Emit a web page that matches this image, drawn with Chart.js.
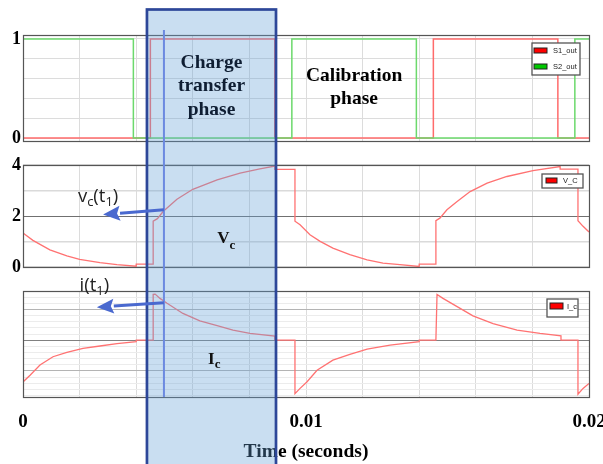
<!DOCTYPE html>
<html>
<head>
<meta charset="utf-8">
<script src="https://cdn.jsdelivr.net/npm/chart.js@4.4.0/dist/chart.umd.min.js"></script>
<style>
  html, body { margin: 0; padding: 0; background: #fff; overflow: hidden; }
  #wrap { position: relative; width: 603px; height: 464px; overflow: hidden; }
  #wrap canvas { position: absolute; left: 0; }
</style>
</head>
<body>
<div id="wrap">
  <canvas id="swChart" width="620" height="160" style="top:0"></canvas>
  <canvas id="vcChart" width="620" height="140" style="top:140px"></canvas>
  <canvas id="icChart" width="620" height="189" style="top:275px"></canvas>
  <canvas id="notes" width="603" height="464" style="top:0"></canvas>
</div>
<script>
// switch drive signals: edge times (s) and the level held after each edge
const s1Time  = [0, 0.0045, 0.0089, 0.0145, 0.0189, 0.02];
const s1Level = [0, 1, 0, 1, 0, 0];
const s2Time  = [0, 0.0039, 0.0095, 0.0139, 0.0195, 0.02];
const s2Level = [1, 0, 1, 0, 1, 1];

// capacitor voltage V_C (V)
const vcTime = [0, 0.00035, 0.00095, 0.00155, 0.002, 0.00272, 0.00332, 0.004, 0.004, 0.0046,
  0.0046, 0.00475, 0.00495, 0.00544, 0.006, 0.00686, 0.00767, 0.00837, 0.0089, 0.0089,
  0.00961, 0.00961, 0.00979, 0.01014, 0.0105, 0.01095, 0.01155, 0.01216, 0.01272, 0.01332,
  0.014, 0.014, 0.01459, 0.01459, 0.01473, 0.01498, 0.01534, 0.0158, 0.0164, 0.0171,
  0.01802, 0.01898, 0.01898, 0.01961, 0.01961, 0.01979, 0.02];
const vcValue = [1.34, 1.05, 0.68, 0.44, 0.31, 0.18, 0.10, 0.04, 0.12, 0.12,
  1.80, 1.90, 2.18, 2.66, 3.05, 3.42, 3.68, 3.85, 3.96, 3.83,
  3.83, 1.80, 1.66, 1.27, 1.01, 0.75, 0.49, 0.29, 0.16, 0.10,
  0.03, 0.12, 0.12, 1.82, 1.92, 2.25, 2.57, 2.96, 3.29, 3.55,
  3.78, 3.94, 3.84, 3.84, 1.82, 1.60, 1.38];

// capacitor current I_c (arbitrary units)
const icTime = [0, 0.00025, 0.0006, 0.00106, 0.00155, 0.00212, 0.00272, 0.00332, 0.004, 0.004,
  0.0046, 0.0046, 0.00467, 0.00484, 0.00509, 0.00565, 0.00625, 0.00686, 0.00742, 0.00802,
  0.0089, 0.0089, 0.00961, 0.00961, 0.00979, 0.01003, 0.01039, 0.01095, 0.01155, 0.01216,
  0.01297, 0.014, 0.014, 0.01459, 0.01463, 0.01484, 0.01534, 0.0159, 0.01661, 0.01746,
  0.01827, 0.01901, 0.01901, 0.01961, 0.01961, 0.01979, 0.02];
const icValue = [-1.36, -1.14, -0.81, -0.54, -0.40, -0.27, -0.19, -0.11, -0.05, 0,
  0, 1.49, 1.50, 1.36, 1.20, 0.87, 0.63, 0.47, 0.33, 0.22,
  0.13, 0, 0, -1.74, -1.57, -1.36, -0.98, -0.65, -0.46, -0.29,
  -0.16, -0.05, 0, 0, 1.49, 1.36, 1.09, 0.79, 0.54, 0.33,
  0.22, 0.14, 0, 0, -1.76, -1.57, -1.41];

// axes
const timeGrid  = [0, 0.002, 0.004, 0.006, 0.008, 0.01, 0.012, 0.014, 0.016, 0.018, 0.02];
const timeTicks = [0, 0.01, 0.02];
const swGrid  = [0, 0.2, 0.4, 0.6, 0.8, 1];
const swTicks = [0, 1];
const vcGrid  = [0, 1, 2, 3, 4];
const vcTicks = [0, 2, 4];
const icGrid  = [-1.8, -1.6, -1.4, -1.2, -1, -0.8, -0.6, -0.4, -0.2, 0, 0.2, 0.4, 0.6, 0.8, 1, 1.2, 1.4, 1.6];

// marked instants
const chargeStart = 0.00438;
const chargeEnd = 0.00894;
const t1 = 0.00498;

const serif = '"Liberation Serif", "Times New Roman", serif';
const pts = (xs, ys) => xs.map((x, i) => ({ x, y: ys[i] }));

// plot border drawn over grid and traces
const frame = {
  id: 'frame',
  afterDatasetsDraw(chart) {
    const { ctx, chartArea: a } = chart;
    ctx.save();
    ctx.strokeStyle = '#555';
    ctx.lineWidth = 1.2;
    ctx.strokeRect(Math.round(a.left) + 0.5, Math.round(a.top) + 0.5,
      Math.round(a.right - a.left), Math.round(a.bottom - a.top));
    ctx.restore();
  }
};

// small boxed legend in the top-right of the plot
const legendBox = {
  id: 'legendBox',
  afterDraw(chart, args, o) {
    const { ctx, chartArea: a } = chart;
    const left = a.right - o.right - o.width;
    const top = a.top + o.top;
    ctx.save();
    ctx.fillStyle = '#fff';
    ctx.fillRect(left, top, o.width, o.height);
    ctx.strokeStyle = '#555';
    ctx.lineWidth = 1.3;
    ctx.strokeRect(left, top, o.width, o.height);
    ctx.font = '7.5px "Liberation Sans", Arial, sans-serif';
    ctx.textBaseline = 'middle';
    chart.data.datasets.forEach((ds, i) => {
      const y = top + o.firstRow + i * o.rowGap;
      ctx.fillStyle = ds.swatch;
      ctx.fillRect(left + o.swatchX, y, o.swatchW, o.swatchH);
      ctx.strokeStyle = '#222';
      ctx.lineWidth = 1;
      ctx.strokeRect(left + o.swatchX, y, o.swatchW, o.swatchH);
      ctx.fillStyle = '#222';
      ctx.fillText(ds.label, left + o.textX, y + o.swatchH / 2 + 0.5);
    });
    ctx.restore();
  }
};

function timeAxis(showLabels) {
  return {
    type: 'linear', min: 0, max: 0.02,
    afterBuildTicks: s => { s.ticks = timeGrid.map(v => ({ value: v })); },
    afterFit: s => { if (showLabels) s.height = 67; },
    grid: { color: '#dcdcdc', drawTicks: false },
    border: { display: false },
    ticks: {
      display: showLabels, autoSkip: false, maxRotation: 0, padding: 14, color: '#000',
      font: { family: serif, size: 19, weight: 'bold' },
      callback: v => timeTicks.some(t => Math.abs(t - v) < 1e-9) ? String(v) : ''
    },
    title: {
      display: showLabels, text: 'Time (seconds)', color: '#000',
      padding: { top: 0, bottom: 0 },
      font: { family: serif, size: 19.5, weight: 'bold' }
    }
  };
}

function valueAxis(min, max, grid, labels, gridColor, gridWidth) {
  return {
    min, max,
    afterBuildTicks: s => { s.ticks = grid.map(v => ({ value: v })); },
    afterFit: s => { s.width = 23; },
    grid: {
      drawTicks: false,
      color: c => gridColor(c.tick.value),
      lineWidth: c => gridWidth ? gridWidth(c.tick.value) : 1
    },
    border: { display: false },
    ticks: {
      display: labels.length > 0, autoSkip: false, padding: 2, color: '#000',
      font: { family: serif, size: 18, weight: 'bold' },
      callback: v => labels.includes(v) ? String(v) : ''
    }
  };
}

const common = {
  responsive: false,
  maintainAspectRatio: false,
  animation: false,
  events: [],
  elements: { point: { radius: 0 }, line: { tension: 0 } }
};

const swChart = new Chart(document.getElementById('swChart'), {
  type: 'line',
  data: {
    datasets: [
      { label: 'S1_out', data: pts(s1Time, s1Level), stepped: true, borderColor: '#ff6b6b', borderWidth: 1.5, swatch: '#ff0000', order: 1 },
      { label: 'S2_out', data: pts(s2Time, s2Level), stepped: true, borderColor: '#6cd96c', borderWidth: 1.5, swatch: '#00c800', order: 0 }
    ]
  },
  options: {
    ...common,
    layout: { padding: { top: 35, bottom: 19, left: 0, right: 31 } },
    scales: {
      x: timeAxis(false),
      y: valueAxis(-0.03, 1.04, swGrid, swTicks, () => '#dcdcdc')
    },
    plugins: {
      legend: { display: false }, tooltip: { enabled: false },
      legendBox: { right: 9, top: 8, width: 48, height: 32, swatchX: 2, swatchW: 13, swatchH: 5, firstRow: 5, rowGap: 16, textX: 21 }
    }
  },
  plugins: [frame, legendBox]
});

const vcChart = new Chart(document.getElementById('vcChart'), {
  type: 'line',
  data: {
    datasets: [
      { label: 'V_C', data: pts(vcTime, vcValue), borderColor: '#ff7272', borderWidth: 1.3, swatch: '#ff0000' }
    ]
  },
  options: {
    ...common,
    layout: { padding: { top: 25, bottom: 12, left: 0, right: 31 } },
    scales: {
      x: timeAxis(false),
      y: valueAxis(0, 4, vcGrid, vcTicks,
        v => v === 2 ? '#707070' : '#dadada',
        v => v === 2 ? 1 : 1.6)
    },
    plugins: {
      legend: { display: false }, tooltip: { enabled: false },
      legendBox: { right: 6, top: 9, width: 41, height: 14, swatchX: 4, swatchW: 11, swatchH: 5, firstRow: 4, rowGap: 16, textX: 21 }
    }
  },
  plugins: [frame, legendBox]
});

const icChart = new Chart(document.getElementById('icChart'), {
  type: 'line',
  data: {
    datasets: [
      { label: 'I_c', data: pts(icTime, icValue), borderColor: '#ff7272', borderWidth: 1.3, swatch: '#ff0000' }
    ]
  },
  options: {
    ...common,
    layout: { padding: { top: 16, bottom: 0, left: 0, right: 31 } },
    scales: {
      x: timeAxis(true),
      y: valueAxis(-1.85, 1.6, icGrid, [],
        v => Math.abs(v) < 1e-9 ? '#808080' : (Math.abs(v - Math.round(v)) < 1e-9 ? '#b4b4b4' : '#ececec'))
    },
    plugins: {
      legend: { display: false }, tooltip: { enabled: false },
      legendBox: { right: 11, top: 8, width: 31, height: 18, swatchX: 3, swatchW: 13, swatchH: 6, firstRow: 4, rowGap: 16, textX: 20 }
    }
  },
  plugins: [frame, legendBox]
});

// annotation layer across the three panels
const ctx = document.getElementById('notes').getContext('2d');
const offs = { sw: 0, vc: 140, ic: 275 };
const X = t => icChart.scales.x.getPixelForValue(t);
const Y = (chart, off, v) => off + chart.scales.y.getPixelForValue(v);

// charge transfer window
const rx0 = X(chargeStart), rx1 = X(chargeEnd);
ctx.fillStyle = 'rgba(100, 160, 215, 0.35)';
ctx.fillRect(rx0, 9, rx1 - rx0, 470);
ctx.strokeStyle = '#2d4799';
ctx.lineWidth = 2.7;
ctx.strokeRect(rx0, 9.5, rx1 - rx0, 470);

// sampling instant t1
ctx.strokeStyle = '#6c8ae0';
ctx.lineWidth = 2;
ctx.beginPath();
ctx.moveTo(X(t1), 30);
ctx.lineTo(X(t1), offs.ic + icChart.chartArea.bottom);
ctx.stroke();

function arrow(x0, y0, x1, y1) {
  const ang = Math.atan2(y1 - y0, x1 - x0);
  const len = 17, half = 7.5;
  const bx = x1 - len * Math.cos(ang), by = y1 - len * Math.sin(ang);
  ctx.strokeStyle = '#4a69cf';
  ctx.fillStyle = '#4a69cf';
  ctx.lineWidth = 3;
  ctx.beginPath();
  ctx.moveTo(x0, y0);
  ctx.lineTo(bx, by);
  ctx.stroke();
  ctx.beginPath();
  ctx.moveTo(x1, y1);
  ctx.lineTo(bx + half * Math.sin(ang), by - half * Math.cos(ang));
  ctx.lineTo(bx + 3 * Math.cos(ang), by + 3 * Math.sin(ang));
  ctx.lineTo(bx - half * Math.sin(ang), by + half * Math.cos(ang));
  ctx.closePath();
  ctx.fill();
}
arrow(X(t1), Y(vcChart, offs.vc, 2.25), X(0.00283), Y(vcChart, offs.vc, 2.06));
arrow(X(t1), Y(icChart, offs.ic, 1.22), X(0.00261), Y(icChart, offs.ic, 1.07));

// text with subscripts: parts are [text, isSub]
function subText(parts, x, y, font, size, subSize, drop, color) {
  ctx.fillStyle = color;
  ctx.textAlign = 'left';
  ctx.textBaseline = 'alphabetic';
  for (const [s, sub] of parts) {
    ctx.font = font.replace('{}', sub ? subSize : size);
    ctx.fillText(s, x, sub ? y + drop : y);
    x += ctx.measureText(s).width;
  }
}
const sans = '{}px "Open Sans", "Noto Sans", sans-serif';
subText([['v', 0], ['c', 1], ['(t', 0], ['1', 1], [')', 0]],
  X(0.00194), Y(vcChart, offs.vc, 2.55), sans, 18.5, 13, 4, '#222');
subText([['i', 0], ['(t', 0], ['1', 1], [')', 0]],
  X(0.002), Y(icChart, offs.ic, 1.6), sans, 18.5, 13, 4, '#222');

const bold = 'bold {}px ' + serif;
subText([['V', 0], ['c', 1]], X(0.00686), Y(vcChart, offs.vc, 0.93), bold, 17, 13, 6, '#111');
subText([['I', 0], ['c', 1]], X(0.00654), Y(icChart, offs.ic, -0.776), bold, 17, 13, 4, '#111');

// phase captions
function caption(lines, t, v, color) {
  ctx.fillStyle = color;
  ctx.font = bold.replace('{}', 19.5);
  ctx.textAlign = 'center';
  ctx.textBaseline = 'alphabetic';
  const y0 = Y(swChart, offs.sw, v);
  lines.forEach((s, i) => ctx.fillText(s, X(t), y0 + i * 23.5));
}
caption(['Charge', 'transfer', 'phase'], (chargeStart + chargeEnd) / 2, 0.707, '#0f1e33');
caption(['Calibration', 'phase'], (s2Time[2] + s2Time[3]) / 2, 0.576, '#000');
</script>
</body>
</html>
